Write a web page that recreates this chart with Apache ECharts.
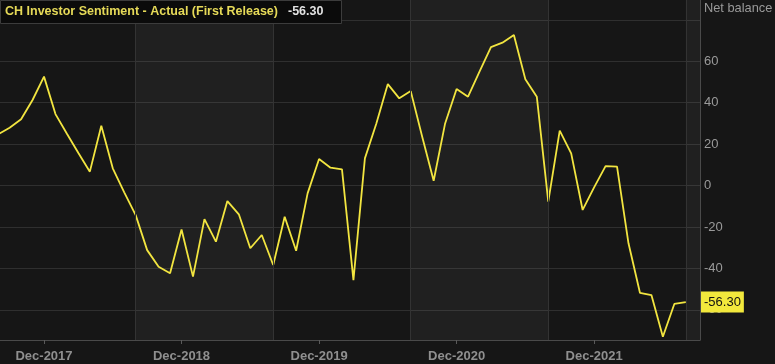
<!DOCTYPE html>
<html>
<head>
<meta charset="utf-8">
<script src="https://cdn.jsdelivr.net/npm/echarts@6/dist/echarts.min.js"></script>
<style>html,body{margin:0;padding:0;background:#161616;}#c{width:775px;height:364px;}</style>
</head>
<body>
<div id="c"></div>
<script>
// Monthly values, Aug-2017 .. Aug-2022 (month index 0 = Aug-2017)
const values = [
  24.7, 27.9, 32.0, 41.3, 52.6, 34.5, 25.0, 15.7, 6.7, 28.9, 8.3, -3.3,
  -14.3, -31.2, -39.2, -42.4, -21.2, -44.0, -16.2, -27.1, -7.5, -13.9, -30.3, -23.9,
  -38.4, -15.1, -31.5, -3.8, 12.8, 8.6, 7.8, -45.7, 13.1, 30.0, 49.0, 42.1,
  45.6, 23.6, 2.3, 30.0, 46.6, 42.9, 55.0, 66.8, 69.0, 72.7, 51.3, 42.9,
  -7.8, 26.5, 15.5, -11.8, -0.9, 9.4, 9.1, -27.9, -51.8, -52.9, -73.0, -57.2,
  -56.3
];
const tickIndices = [4, 16, 28, 40, 52];
const tickLabels = ['Dec-2017', 'Dec-2018', 'Dec-2019', 'Dec-2020', 'Dec-2021'];
const yLabelValues = [-60, -40, -20, 0, 20, 40, 60];
const yGridValues = [-60, -40, -20, 0, 20, 40, 60, 80];
const bandEdges = [12, 24, 36, 48, 60];
const lastValue = -56.30;
const titleText = 'CH Investor Sentiment - Actual (First Release)';

const seriesData = values.map((v, i) => [i, v]);
const lightBands = [[12, 24], [36, 48], [60, 62]];

const chart = echarts.init(document.getElementById('c'));
chart.setOption({
  backgroundColor: '#161616',
  animation: false,
  title: {
    text: '{a|' + titleText + '}  {b|' + lastValue.toFixed(2) + '}',
    left: 0, top: 0,
    padding: [3, 18, 3, 5],
    backgroundColor: '#0b0b0b',
    borderColor: '#3c3c3c',
    borderWidth: 1,
    textStyle: {
      rich: {
        a: { color: '#e6da58', fontSize: 12.5, fontFamily: 'Liberation Sans', lineHeight: 16 },
        b: { color: '#e2e2e2', fontSize: 12.5, fontFamily: 'Liberation Sans', lineHeight: 16 }
      }
    }
  },
  graphic: [{
    type: 'text', left: 704, top: 2,
    style: { text: 'Net balance', fill: '#9a9a9a', font: '12.8px "Liberation Sans"' }
  }],
  grid: { left: 0, right: 75, top: 0, bottom: 24 },
  xAxis: {
    type: 'value',
    min: 0.16, max: 61.24,
    axisLine: { show: true, onZero: false, lineStyle: { color: '#4a4a4a', width: 1 } },
    axisTick: { show: true, length: 4, lineStyle: { color: '#5a5a5a' }, customValues: tickIndices },
    axisLabel: {
      customValues: tickIndices,
      color: '#8f8f8f', fontSize: 13, fontWeight: 'bold', fontFamily: 'Liberation Sans', margin: 10,
      formatter: v => tickLabels[tickIndices.indexOf(Math.round(v))] || ''
    },
    splitLine: { show: false }
  },
  yAxis: {
    type: 'value',
    position: 'right',
    min: -74.6, max: 89.6,
    axisLine: { show: true, lineStyle: { color: '#4a4a4a' } },
    axisTick: { show: false, customValues: yGridValues },
    axisLabel: {
      customValues: yLabelValues,
      color: '#9a9a9a', fontSize: 13, fontFamily: 'Liberation Sans', margin: 4
    },
    splitLine: { show: true, lineStyle: { color: '#2f2f2f', width: 1 } }
  },
  series: [{
    type: 'line',
    data: seriesData,
    symbol: 'none',
    lineStyle: { color: '#f2e540', width: 1.8 },
    markArea: {
      silent: true,
      itemStyle: { color: 'rgba(255,255,255,0.045)' },
      data: lightBands.map(b => [{ xAxis: b[0] }, { xAxis: b[1] }])
    },
    markLine: {
      silent: true,
      symbol: 'none',
      animation: false,
      data: bandEdges.map(e => ({ xAxis: e, lineStyle: { color: '#333333', width: 1, type: 'solid' }, label: { show: false } }))
    }
  }, {
    type: 'line',
    data: [],
    markLine: {
      silent: true,
      symbol: 'none',
      animation: false,
      lineStyle: { color: 'rgba(0,0,0,0)', width: 0 },
      data: [{ yAxis: lastValue }],
      label: { show: true, position: 'end', distance: 1, formatter: lastValue.toFixed(2),
               backgroundColor: '#f2e83c', color: '#111', fontSize: 13, fontFamily: 'Liberation Sans',
               padding: [4, 3, 4, 3] }
    }
  }]
});
</script>
</body>
</html>
